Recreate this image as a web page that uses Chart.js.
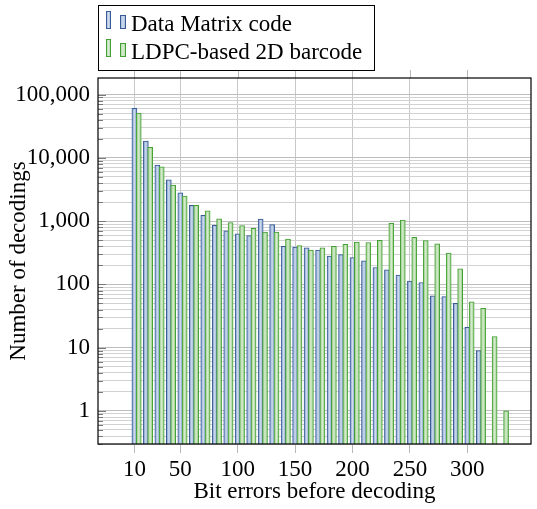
<!DOCTYPE html>
<html>
<head>
<meta charset="utf-8">
<script src="https://cdn.jsdelivr.net/npm/chart.js@4"></script>
<style>
  html, body { margin: 0; padding: 0; background: #fff; }
</style>
</head>
<body>
<canvas id="chart" width="537" height="509"></canvas>
<script>
// bit errors per group, counts
const bitErrors = [10, 20, 30, 40, 50, 60, 70, 80, 90, 100, 110, 120, 130, 140, 150, 160, 170,
  180, 190, 200, 210, 220, 230, 240, 250, 260, 270, 280, 290, 300, 310, 320, 330];
const dataMatrix = [60500, 18400, 7700, 4500, 2800, 1770, 1230, 860, 700, 630, 590, 1080, 880,
  400, 390, 380, 350, 280, 295, 265, 235, 185, 170, 140, 113, 107, 66, 64, 50, 21, 9, null, null];
const ldpc = [51000, 14700, 7200, 3700, 2500, 1780, 1460, 1090, 950, 850, 770, 670, 670,
  520, 410, 350, 380, 400, 430, 465, 460, 495, 920, 1040, 557, 494, 437, 313, 176, 53, 42, 15, 1];
const seriesNames = ['Data Matrix code', 'LDPC-based 2D barcode'];
const xTicks = [10, 50, 100, 150, 200, 250, 300];
const yTicks = [1, 10, 100, 1000, 10000, 100000];

const FONT = '"Liberation Serif", "Times New Roman", serif';
const greenShift = 3.8; // second bar sits just right of the first one
const blueFill = '#98b2d8', blueLine = '#3a5a95';
const greenFill = '#a9d69b', greenLine = '#44a034';

Chart.defaults.color = '#000';
Chart.defaults.font.family = FONT;
Chart.defaults.font.size = 23;

// light stripe down the middle of a bar, like the shaded bars of the original
function shine(ctx, x, top, w, h) {
  const g = ctx.createLinearGradient(x, 0, x + w, 0);
  g.addColorStop(0, 'rgba(255,255,255,0)');
  g.addColorStop(0.5, 'rgba(255,255,255,0.55)');
  g.addColorStop(1, 'rgba(255,255,255,0)');
  ctx.fillStyle = g;
  ctx.fillRect(x, top, w, h);
}

const frame = {
  id: 'frame',
  afterDatasetDraw(chart, args) {
    const { ctx, chartArea: a } = chart;
    ctx.save();
    ctx.beginPath();
    ctx.rect(a.left, a.top, a.right - a.left, a.bottom - a.top);
    ctx.clip();
    args.meta.data.forEach(bar => {
      if (bar.skip || !isFinite(bar.y)) return;
      const w = bar.width - 2;
      shine(ctx, bar.x - w / 2, bar.y + 1, w, bar.base - bar.y - 1);
    });
    ctx.restore();
  },
  afterDatasetsDraw(chart) {
    const { ctx, chartArea: a, scales: { x, y } } = chart;
    ctx.save();
    ctx.lineWidth = 1;
    ctx.strokeStyle = '#7a7a7a';
    y.ticks.forEach(t => {
      const py = Math.round(y.getPixelForValue(t.value)) + 0.5;
      ctx.beginPath();
      ctx.moveTo(a.left, py);
      ctx.lineTo(a.left + (t.major ? 8 : 5), py);
      ctx.stroke();
    });
    ctx.strokeStyle = '#b8b8b8';
    x.ticks.forEach(t => {
      const px = Math.round(x.getPixelForValue(t.value)) + 0.5;
      ctx.beginPath();
      ctx.moveTo(px, a.top - 8);
      ctx.lineTo(px, a.top);
      ctx.stroke();
    });
    ctx.strokeStyle = '#000';
    ctx.lineWidth = 1.2;
    ctx.strokeRect(a.left, a.top, a.right - a.left, a.bottom - a.top);
    ctx.restore();
  },
  afterDraw(chart) {
    const { ctx } = chart;
    ctx.save();
    ctx.strokeStyle = '#000';
    ctx.lineWidth = 1;
    ctx.strokeRect(98.5, 5.5, 276, 65);
    ctx.font = '23px ' + FONT;
    ctx.textBaseline = 'alphabetic';
    chart.data.datasets.forEach((ds, i) => {
      const base = 29 + i * 28;
      [[106, 18, 5], [120, 14, 6]].forEach(([bx, bh, bw]) => {
        ctx.fillStyle = ds.backgroundColor;
        ctx.fillRect(bx, base - bh, bw, bh);
        shine(ctx, bx, base - bh, bw, bh);
        ctx.strokeStyle = ds.borderColor;
        ctx.strokeRect(bx + 0.5, base - bh + 0.5, bw - 1, bh - 1);
      });
      ctx.fillStyle = '#000';
      ctx.fillText(ds.label, 131, base + 1.5);
    });
    ctx.restore();
  }
};

new Chart(document.getElementById('chart'), {
  type: 'bar',
  data: {
    datasets: [{
      label: seriesNames[0],
      data: bitErrors.map((b, i) => ({ x: b, y: dataMatrix[i] })),
      backgroundColor: blueFill,
      borderColor: blueLine,
      borderWidth: 1,
      order: 1
    }, {
      label: seriesNames[1],
      data: bitErrors.map((b, i) => ({ x: b + greenShift, y: ldpc[i] })),
      backgroundColor: greenFill,
      borderColor: greenLine,
      borderWidth: 1,
      order: 0
    }]
  },
  options: {
    responsive: false,
    animation: false,
    grouped: false,
    barThickness: 5,
    layout: { padding: { top: 78, right: 6, left: 0, bottom: 0 } },
    plugins: { legend: { display: false }, tooltip: { enabled: false } },
    scales: {
      x: {
        type: 'linear',
        offset: false,
        min: -21.7,
        max: 355.5,
        afterBuildTicks: s => { s.ticks = xTicks.map(v => ({ value: v })); },
        afterFit: s => { s.height = 65; },
        ticks: { autoSkip: false, maxRotation: 0, padding: 3.5, callback: v => String(v) },
        grid: { offset: false, color: '#c8c8c8', tickColor: '#b8b8b8', tickLength: 9 },
        border: { display: false },
        title: { display: true, text: 'Bit errors before decoding', padding: { top: 0, bottom: 3 } }
      },
      y: {
        type: 'logarithmic',
        min: 0.343,
        max: 183000,
        afterBuildTicks: s => {
          const t = [];
          for (let e = -1; e <= 5; e++) {
            for (let m = 1; m <= 9; m++) {
              const v = Number((m * Math.pow(10, e)).toPrecision(6));
              if (v >= s.min && v <= s.max) t.push({ value: v, major: yTicks.includes(v) });
            }
          }
          s.ticks = t;
        },
        afterFit: s => { s.width = 98; },
        ticks: {
          autoSkip: false,
          padding: 8,
          callback: v => yTicks.includes(v) ? v.toLocaleString('en-US') : ''
        },
        grid: { color: c => (c.tick && c.tick.major) ? '#bdbdbd' : '#d2d2d2', drawTicks: false },
        border: { display: false },
        title: { display: true, text: 'Number of decodings', padding: { top: 5, bottom: 0 } }
      }
    }
  },
  plugins: [frame]
});
</script>
</body>
</html>
